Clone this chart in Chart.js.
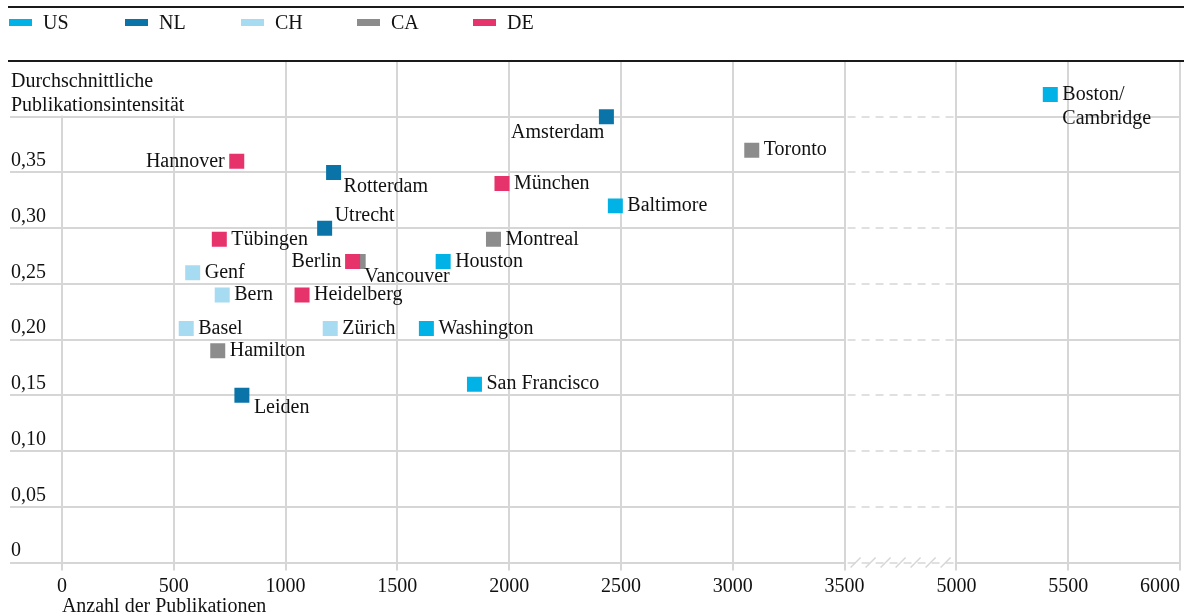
<!DOCTYPE html>
<html lang="de">
<head>
<meta charset="UTF-8">
<title>Publikationsintensität</title>
<script src="https://cdn.jsdelivr.net/npm/chart.js@4.4.1/dist/chart.umd.min.js"></script>
<style>
  body { margin: 0; background: #fff; }
  #wrap { position: relative; width: 1184px; height: 616px; font-family: "Liberation Serif", serif; color: #111; }
  #legend .item { position: absolute; top: 11px; height: 24px; line-height: 24px; font-size: 20px; }
  #legend .item i { position: absolute; left: 0; top: 8px; width: 23px; height: 7px; }
  #legend .item span { position: absolute; left: 34px; top: -1px; white-space: nowrap; }
</style>
</head>
<body>
<div id="wrap">
  <canvas id="chart" width="1184" height="616"></canvas>
  <div id="legend"></div>
</div>

<script>
// series
const seriesNames = ['US', 'NL', 'CH', 'CA', 'DE'];
const seriesColors = ['#00b2e6', '#0a74a8', '#a6dbf2', '#8c8c8c', '#e6336c'];

const usCities = ['Boston/\nCambridge', 'Baltimore', 'Houston', 'Washington', 'San Francisco'];
const usPubs = [5420, 2475, 1705, 1630, 1845];
const usIntensity = [0.42, 0.32, 0.27, 0.21, 0.16];

const nlCities = ['Amsterdam', 'Rotterdam', 'Utrecht', 'Leiden'];
const nlPubs = [2435, 1215, 1175, 805];
const nlIntensity = [0.40, 0.35, 0.30, 0.15];

const chCities = ['Genf', 'Bern', 'Basel', 'Zürich'];
const chPubs = [585, 717, 556, 1200];
const chIntensity = [0.26, 0.24, 0.21, 0.21];

const caCities = ['Toronto', 'Montreal', 'Vancouver', 'Hamilton'];
const caPubs = [3085, 1930, 1325, 697];
const caIntensity = [0.37, 0.29, 0.27, 0.19];

const deCities = ['Hannover', 'München', 'Tübingen', 'Berlin', 'Heidelberg'];
const dePubs = [782, 1968, 704, 1300, 1074];
const deIntensity = [0.36, 0.34, 0.29, 0.27, 0.24];

// axes
const xTickValues = [0, 500, 1000, 1500, 2000, 2500, 3000, 3500, 5000, 5500, 6000];
const xTickLabels = ['0', '500', '1000', '1500', '2000', '2500', '3000', '3500', '5000', '5500', '6000'];
const yTickValues = [0, 0.05, 0.10, 0.15, 0.20, 0.25, 0.30, 0.35, 0.40, 0.45];
const yTickLabels = ['0', '0,05', '0,10', '0,15', '0,20', '0,25', '0,30', '0,35', '', ''];

// x axis is cut between 3500 and 5000, the gap gets the width of one 500 step
const breakFrom = 3500, breakTo = 5000;
const toAxis = v => v > breakFrom ? v - (breakTo - breakFrom - 500) : v;

// label placement next to the square: [dx, dy, align]; everything else sits right of it
const labelPlace = {
  Hannover: [-12, 0, 'right'],
  Berlin: [-11, 0, 'right'],
  Amsterdam: [-2, 16, 'right'],
  Rotterdam: [10, 14, 'left'],
  Leiden: [12, 12, 'left'],
  Vancouver: [6, 15, 'left'],
  Utrecht: [10, -12, 'left']
};

const font = { family: '"Liberation Serif", serif', size: 20 };
const fontCss = '20px "Liberation Serif", serif';
const textColor = '#111';
const gridColor = '#d6d6d6';

const groups = [
  [usCities, usPubs, usIntensity],
  [nlCities, nlPubs, nlIntensity],
  [chCities, chPubs, chIntensity],
  [caCities, caPubs, caIntensity],
  [deCities, dePubs, deIntensity]
];

const datasets = groups.map(([names, xs, ys], k) => ({
  label: seriesNames[k],
  data: xs.map((x, i) => ({ x: toAxis(x), y: ys[i], name: names[i] })),
  backgroundColor: seriesColors[k],
  borderWidth: 0,
  pointStyle: 'rect',
  pointRadius: 10.6,
  order: seriesNames[k] === 'DE' ? 0 : 1   // Berlin sits on top of Vancouver
}));

// legend
const legend = document.getElementById('legend');
seriesNames.forEach((n, k) => {
  const d = document.createElement('div');
  d.className = 'item';
  d.style.left = (9 + k * 116) + 'px';
  d.innerHTML = `<i style="background:${seriesColors[k]}"></i><span>${n}</span>`;
  legend.appendChild(d);
});

const decor = {
  id: 'decor',
  beforeDatasetsDraw(chart) {
    const { ctx, chartArea: a, scales: { x, y } } = chart;
    const x0 = x.getPixelForValue(toAxis(breakFrom));
    const x1 = x.getPixelForValue(toAxis(breakTo));
    const line = (ax, ay, bx, by) => { ctx.beginPath(); ctx.moveTo(ax, ay); ctx.lineTo(bx, by); ctx.stroke(); };
    ctx.save();
    // axis break: dashed grid + slashes
    ctx.fillStyle = '#fff';
    ctx.fillRect(x0 + 1.5, a.top + 1, x1 - x0 - 3, a.bottom - a.top + 2);
    ctx.strokeStyle = gridColor;
    ctx.lineWidth = 1.5;
    ctx.setLineDash([8, 6]);
    yTickValues.forEach(v => {
      if (v >= 0.45) return;
      const py = Math.round(y.getPixelForValue(v));
      line(x0 + 3, py, x1 - 2, py);
    });
    ctx.setLineDash([]);
    const by = y.getPixelForValue(0);
    for (let sx = x0 + 11; sx < x1 - 4; sx += 15) line(sx - 5, by + 5, sx + 5, by - 5);

    // y title
    ctx.fillStyle = '#fff';
    ctx.fillRect(a.left, a.top + 1, 225, y.getPixelForValue(0.40) - a.top - 2);
    ctx.fillStyle = textColor;
    ctx.font = fontCss;
    ctx.textAlign = 'left';
    ctx.textBaseline = 'alphabetic';
    ctx.fillText('Durchschnittliche', a.left + 1, 87);
    ctx.fillText('Publikationsintensität', a.left + 1, 111);
    ctx.restore();
  },
  afterDatasetsDraw(chart) {
    const { ctx } = chart;
    ctx.save();
    ctx.font = fontCss;
    ctx.fillStyle = textColor;
    ctx.textBaseline = 'middle';
    chart.data.datasets.forEach((ds, di) => {
      chart.getDatasetMeta(di).data.forEach((pt, i) => {
        const name = ds.data[i].name;
        const [dx, dy, align] = labelPlace[name] || [12, 0, 'left'];
        ctx.textAlign = align;
        name.split('\n').forEach((ln, k) => ctx.fillText(ln, pt.x + dx, pt.y + dy + k * 24));
      });
    });
    ctx.restore();
  },
  afterDraw(chart) {
    const { ctx, chartArea: a, scales: { x } } = chart;
    ctx.save();
    ctx.fillStyle = '#1a1a1a';
    ctx.fillRect(8, 6, 1176, 2);
    ctx.fillRect(8, a.top - 1, 1176, 2);
    ctx.fillStyle = textColor;
    ctx.font = fontCss;
    ctx.textAlign = 'left';
    ctx.textBaseline = 'alphabetic';
    ctx.fillText('Anzahl der Publikationen', x.getPixelForValue(0), 612);
    ctx.restore();
  }
};

new Chart(document.getElementById('chart'), {
  type: 'scatter',
  data: { datasets },
  options: {
    responsive: false,
    animation: false,
    events: [],
    layout: { autoPadding: false, padding: { top: 61, left: 8, right: 4, bottom: 13.5 } },
    plugins: { legend: { display: false }, tooltip: { enabled: false } },
    scales: {
      x: {
        type: 'linear',
        min: -232,
        max: 5000,
        afterBuildTicks: s => { s.ticks = xTickValues.map(v => ({ value: toAxis(v) })); },
        afterFit: s => { s.paddingLeft = 0; s.paddingRight = 0; },
        border: { display: false },
        grid: { color: gridColor, lineWidth: 2, tickLength: 8, tickColor: gridColor },
        ticks: {
          padding: 4, maxRotation: 0, autoSkip: false, font, color: textColor,
          // last label ends at the edge line instead of being centred on it
          callback: (v, i) => i === xTickLabels.length - 1 ? xTickLabels[i] + '\u2003\u2003' : xTickLabels[i]
        }
      },
      y: {
        min: 0,
        max: 0.45,
        afterBuildTicks: s => { s.ticks = yTickValues.map(v => ({ value: v })); },
        afterFit: s => { s.paddingTop = 0; s.paddingBottom = 0; },
        border: { display: false },
        grid: { color: gridColor, lineWidth: 2, drawTicks: false },
        ticks: {
          mirror: true, padding: 1, labelOffset: -11.5, font, color: textColor,
          callback: (v, i) => yTickLabels[i]
        }
      }
    }
  },
  plugins: [decor]
});
</script>
</body>
</html>
